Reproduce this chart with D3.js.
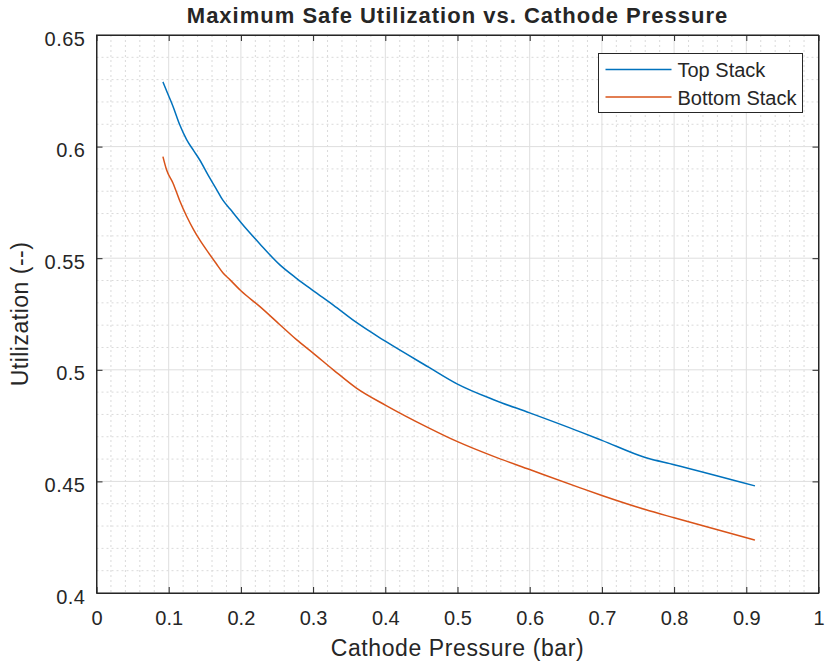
<!DOCTYPE html>
<html>
<head>
<meta charset="utf-8">
<script src="https://cdn.jsdelivr.net/npm/d3@7"></script>
<style>
  body { margin: 0; background: #fff; }
  text { font-family: "Liberation Sans", Arial, sans-serif; fill: #262626; }
</style>
</head>
<body>
<svg id="chart"></svg>
<script>
// values
const pressure = [0.092, 0.097, 0.106, 0.115, 0.125, 0.135, 0.143, 0.155, 0.166, 0.175, 0.185, 0.2,
    0.226, 0.254, 0.277, 0.3, 0.328, 0.36, 0.4, 0.46, 0.5, 0.55, 0.6, 0.67, 0.7, 0.76, 0.8, 0.912];
const topStack = [0.629, 0.625, 0.618, 0.610, 0.603, 0.598, 0.594, 0.587, 0.581, 0.576, 0.572, 0.566,
    0.5565, 0.547, 0.541, 0.5355, 0.529, 0.5212, 0.5128, 0.5012, 0.4936, 0.4866, 0.4807, 0.4722, 0.4684, 0.4607, 0.4575, 0.448];
const bottomStack = [0.5955, 0.5896, 0.5836, 0.576, 0.5687, 0.5625, 0.5582, 0.5525, 0.5475, 0.5435, 0.5403, 0.5354,
    0.5284, 0.5202, 0.5135, 0.5075, 0.500, 0.4918, 0.4842, 0.4740, 0.4678, 0.4612, 0.4553, 0.4471, 0.4437, 0.4374, 0.4337, 0.4237];
const seriesNames = ['Top Stack', 'Bottom Stack'];
const seriesColors = ['#0072BD', '#D95319'];
const xTicks = [0, 0.1, 0.2, 0.3, 0.4, 0.5, 0.6, 0.7, 0.8, 0.9, 1];
const yTicks = [0.4, 0.45, 0.5, 0.55, 0.6, 0.65];

const W = 825, H = 664;
const margin = { top: 35, right: 6.5, bottom: 71, left: 96.5 };
const width = W - margin.left - margin.right;
const height = H - margin.top - margin.bottom;

const svg = d3.select('#chart').attr('width', W).attr('height', H);
const chart = svg.append('g').attr('transform', `translate(${margin.left},${margin.top})`);

const x = d3.scaleLinear().domain([0, 1]).range([0, width]);
const y = d3.scaleLinear().domain([0.4, 0.65]).range([height, 0]);

// minor grid (dotted)
const xMinor = d3.range(0, 1.0001, 0.02).filter(v => Math.abs(v * 10 - Math.round(v * 10)) > 1e-6);
const yMinor = d3.range(0.4, 0.65001, 0.01).filter(v => Math.abs(v * 20 - Math.round(v * 20)) > 1e-6);

chart.append('g').selectAll('line').data(xMinor).enter().append('line')
    .attr('x1', d => x(d)).attr('x2', d => x(d)).attr('y1', 0).attr('y2', height)
    .attr('stroke', '#dadada').attr('stroke-width', 1).attr('stroke-dasharray', '2,3');
chart.append('g').selectAll('line').data(yMinor).enter().append('line')
    .attr('y1', d => y(d)).attr('y2', d => y(d)).attr('x1', 0).attr('x2', width)
    .attr('stroke', '#dadada').attr('stroke-width', 1).attr('stroke-dasharray', '2,3');

// major grid
chart.append('g').selectAll('line').data(xTicks).enter().append('line')
    .attr('x1', d => x(d)).attr('x2', d => x(d)).attr('y1', 0).attr('y2', height)
    .attr('stroke', '#dedede').attr('stroke-width', 1);
chart.append('g').selectAll('line').data(yTicks).enter().append('line')
    .attr('y1', d => y(d)).attr('y2', d => y(d)).attr('x1', 0).attr('x2', width)
    .attr('stroke', '#dedede').attr('stroke-width', 1);

// axes, ticks pointing inward
const fmt = d => d3.format('')(+d.toFixed(2));
const xAxis = d3.axisBottom(x).tickValues(xTicks).tickSizeInner(-6).tickSizeOuter(0).tickPadding(18).tickFormat(fmt);
const yAxis = d3.axisLeft(y).tickValues(yTicks).tickSizeInner(-6).tickSizeOuter(0).tickPadding(11).tickFormat(fmt);

const xAxisG = chart.append('g').attr('transform', `translate(0,${height})`).call(xAxis);
const yAxisG = chart.append('g').call(yAxis);
chart.append('g').call(d3.axisTop(x).tickValues(xTicks).tickSizeInner(-6).tickSizeOuter(0).tickFormat(''));
chart.append('g').attr('transform', `translate(${width},0)`)
    .call(d3.axisRight(y).tickValues(yTicks).tickSizeInner(-6).tickSizeOuter(0).tickFormat(''));

chart.selectAll('.domain').attr('stroke', '#262626');
chart.selectAll('.tick line').attr('stroke', '#262626');
xAxisG.selectAll('text').style('font-size', '20px').attr('fill', '#262626');
yAxisG.selectAll('text').style('font-size', '20px').style('letter-spacing', '0.5px')
    .attr('dy', '0.5em').attr('fill', '#262626');
// box
chart.append('rect').attr('width', width).attr('height', height)
    .attr('fill', 'none').attr('stroke', '#262626').attr('stroke-width', 1);

// lines
const series = [topStack, bottomStack];
const line = d3.line().curve(d3.curveMonotoneX).x((d, i) => x(pressure[i])).y(d => y(d));
chart.selectAll('.series').data(series).enter().append('path')
    .attr('class', 'series')
    .attr('d', d => line(d))
    .attr('fill', 'none')
    .attr('stroke', (d, i) => seriesColors[i])
    .attr('stroke-width', 1.5);

// title & labels
svg.append('text').attr('x', margin.left + width / 2).attr('y', 23)
    .attr('text-anchor', 'middle').style('font-size', '22px').style('font-weight', 'bold')
    .style('letter-spacing', '1px')
    .attr('fill', '#000').text('Maximum Safe Utilization vs. Cathode Pressure');
svg.append('text').attr('x', margin.left + width / 2).attr('y', 656)
    .attr('text-anchor', 'middle').style('font-size', '23px').style('letter-spacing', '0.6px')
    .text('Cathode Pressure (bar)');
svg.append('text').attr('transform', `translate(28,${margin.top + height / 2}) rotate(-90)`)
    .attr('text-anchor', 'middle').style('font-size', '23px').style('letter-spacing', '0.5px')
    .text('Utilization (--)');

// legend
const legend = svg.append('g').attr('transform', 'translate(598.5,53.5)');
legend.append('rect').attr('width', 204).attr('height', 59)
    .attr('fill', '#fff').attr('stroke', '#262626').attr('stroke-width', 1);
seriesNames.forEach((name, i) => {
    const ly = 16 + i * 27.5;
    legend.append('line').attr('x1', 7).attr('x2', 73).attr('y1', ly).attr('y2', ly)
        .attr('stroke', seriesColors[i]).attr('stroke-width', 1.5);
    legend.append('text').attr('x', 79).attr('y', ly + 7.5)
        .style('font-size', '20px').text(name);
});
</script>
</body>
</html>
